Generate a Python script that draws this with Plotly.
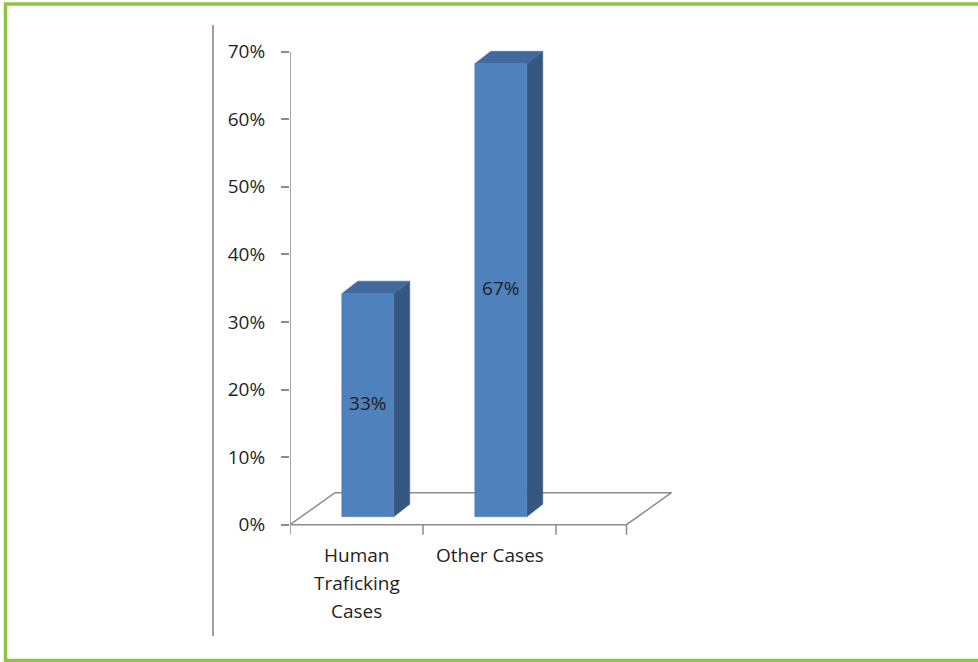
import plotly.graph_objects as go

# ---- data ----
categories = ["Human<br>Traficking<br>Cases", "Other Cases"]
values = [33, 67]
value_labels = ["33%", "67%"]
ytick_vals = [0, 10, 20, 30, 40, 50, 60, 70]
ytick_text = ["0%", "10%", "20%", "30%", "40%", "50%", "60%", "70%"]

# ---- layout constants (pixels) ----
W, H = 978, 662
ML, MR, MT, MB = 290, 289, 38, 117
XR = [0, 3]
YR = [-3, 72]
pw = W - ML - MR
ph = H - MT - MB
xu = pw / (XR[1] - XR[0])   # px per x unit
yu = ph / (YR[1] - YR[0])   # px per y unit

# 3-D style geometry (in axis units)
floor_dx = 45 / xu
floor_dy = 32 / yu
floor_end = 2.53
bar_w = 52 / xu
depth_frac = 0.25
ox, oy = depth_frac * floor_dx, depth_frac * floor_dy
bdx, bdy = 16 / xu, 12.5 / yu

FRONT = "#4F81BD"
SIDE = "#36577F"
TOP = "#41699D"
GRID = "#8C8C8C"
FONT = "Open Sans"
TXT = "#1f1f1f"
FS = 19

fig = go.Figure()

def poly(xs, ys, color):
    fig.add_trace(go.Scatter(x=xs + [xs[0]], y=ys + [ys[0]], mode="lines",
                             fill="toself", fillcolor=color,
                             line=dict(color=color, width=0.5),
                             hoverinfo="skip", showlegend=False))

def seg(xs, ys, color=GRID, width=1.5):
    fig.add_trace(go.Scatter(x=xs, y=ys, mode="lines",
                             line=dict(color=color, width=width),
                             hoverinfo="skip", showlegend=False))

# floor
seg([0, floor_end, floor_end + floor_dx, floor_dx, 0],
    [0, 0, floor_dy, floor_dy, 0])
# y axis line
seg([0, 0], [0, ytick_vals[-1]])
# x ticks
for xt in [0, 1, 2, floor_end]:
    seg([xt, xt], [0, -10 / yu])

# bars
for i, v in enumerate(values):
    c = i + 0.5
    xl = c - bar_w / 2 + ox
    xr = c + bar_w / 2 + ox
    y0 = oy
    y1 = v + oy
    poly([xr, xr + bdx, xr + bdx, xr], [y0, y0 + bdy, y1 + bdy, y1], SIDE)
    poly([xl, xr, xr + bdx, xl + bdx], [y1, y1, y1 + bdy, y1 + bdy], TOP)
    poly([xl, xr, xr, xl], [y0, y0, y1, y1], FRONT)

# value labels
fig.add_trace(go.Scatter(
    x=[i + 0.5 + ox for i in range(len(values))],
    y=[v / 2 + oy for v in values],
    mode="text", text=value_labels,
    textfont=dict(family=FONT, size=FS, color=TXT),
    hoverinfo="skip", showlegend=False))

# category labels (one annotation per line for Excel-like line spacing)
LINE_H = 28
for i, cat in enumerate(categories):
    for j, part in enumerate(cat.split("<br>")):
        fig.add_annotation(x=i + 0.5, y=0, xref="x", yref="y", text=part,
                           showarrow=False, yanchor="middle",
                           yshift=-(30 + j * LINE_H),
                           font=dict(family=FONT, size=FS, color=TXT))

def px_x(p):
    return (p - ML) / pw

def px_y(p):
    return (H - MB - p) / ph

# vertical separator line
fig.add_shape(type="line", xref="paper", yref="paper",
              x0=px_x(213), x1=px_x(213), y0=px_y(25), y1=px_y(636),
              line=dict(color="#7F7F7F", width=1.5))
# green border
fig.add_shape(type="rect", xref="paper", yref="paper",
              x0=px_x(5.5), x1=px_x(990), y0=px_y(660.5), y1=px_y(4),
              line=dict(color="#8CC63F", width=3.5))

fig.update_layout(
    width=W, height=H,
    margin=dict(l=ML, r=MR, t=MT, b=MB, autoexpand=False),
    paper_bgcolor="white", plot_bgcolor="white",
    xaxis=dict(range=XR, visible=False, fixedrange=True),
    yaxis=dict(range=YR, tickvals=ytick_vals, ticktext=ytick_text,
               ticks="outside", ticklen=8, tickwidth=1.5, tickcolor=GRID,
               showgrid=False, zeroline=False, showline=False,
               ticklabelstandoff=12,
               tickfont=dict(family=FONT, size=FS, color=TXT),
               fixedrange=True),
    showlegend=False,
)

fig.write_html("out.html", config={"displayModeBar": False},
               post_script="document.body.style.margin='0';")
